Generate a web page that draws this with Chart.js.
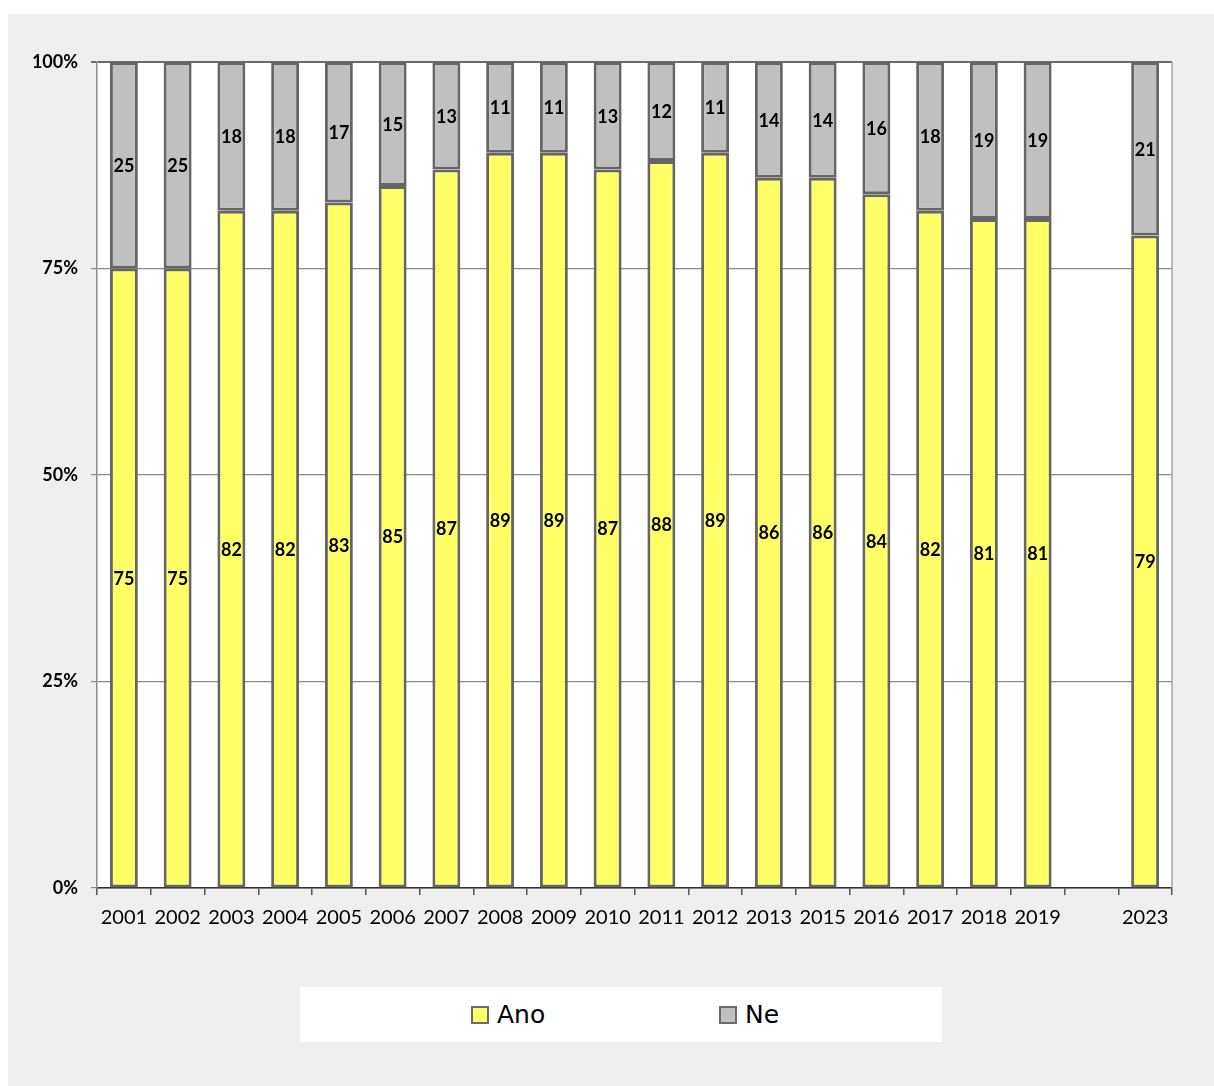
<!DOCTYPE html>
<html>
<head>
<meta charset="utf-8">
<script src="https://cdn.jsdelivr.net/npm/chart.js@4"></script>
<style>
  html, body { margin: 0; padding: 0; background: #ffffff; }
  #wrap { position: relative; width: 1214px; height: 1086px; overflow: hidden; }
  #panel { position: absolute; left: 8px; top: 14px; right: 0; bottom: 0; background: #efefef; }
  #c { position: absolute; left: 0; top: 0; }
  #legend { position: absolute; left: 300px; top: 987px; width: 642px; height: 55px; background: #ffffff;
            font-family: "DejaVu Sans", sans-serif; font-size: 25px; color: #000; }
  .item { position: absolute; top: 0; height: 55px; display: flex; align-items: center; }
  .sw { width: 14px; height: 14px; border: 2px solid #6b6b6b; margin-right: 8px; }
</style>
</head>
<body>
<div id="wrap">
  <div id="panel"></div>
  <canvas id="c" width="1214" height="1086"></canvas>
  <div id="legend"></div>
</div>
<script>
const categories = ["2001","2002","2003","2004","2005","2006","2007","2008","2009","2010","2011","2012","2013","2015","2016","2017","2018","2019","","2023"];
const anoValues = [75,75,82,82,83,85,87,89,89,87,88,89,86,86,84,82,81,81,null,79];
const neValues  = [25,25,18,18,17,15,13,11,11,13,12,11,14,14,16,18,19,19,null,21];
const yTicks = [0,25,50,75,100];
const seriesNames = ["Ano","Ne"];
const seriesColors = ["#ffff66","#c0c0c0"];

const labelPlugin = {
  id: 'segLabels',
  afterDatasetsDraw(chart) {
    const ctx = chart.ctx;
    ctx.save();
    ctx.font = 'bold 18px Lato, "Open Sans", sans-serif';
    ctx.fillStyle = '#000';
    ctx.textAlign = 'center';
    ctx.textBaseline = 'middle';
    chart.data.datasets.forEach((ds, i) => {
      const meta = chart.getDatasetMeta(i);
      meta.data.forEach((el, j) => {
        const v = ds.data[j];
        if (v === null || v === undefined) return;
        ctx.fillText(String(v), el.x, (el.y + el.base) / 2 + 1);
      });
    });
    ctx.restore();
  }
};

const framePlugin = {
  id: 'frame',
  beforeDraw(chart) {
    const a = chart.chartArea, ctx = chart.ctx;
    ctx.save();
    ctx.fillStyle = '#ffffff';
    ctx.fillRect(a.left, a.top, a.right - a.left, a.bottom - a.top);
    ctx.restore();
  },
  afterDraw(chart) {
    const a = chart.chartArea, ctx = chart.ctx;
    ctx.save();
    ctx.strokeStyle = '#a6a6a6';
    ctx.lineWidth = 1.5;
    ctx.beginPath();
    ctx.moveTo(a.right, a.top);
    ctx.lineTo(a.right, a.bottom);
    ctx.stroke();
    ctx.restore();
  }
};

const chart = new Chart(document.getElementById('c'), {
  type: 'bar',
  data: {
    labels: categories,
    datasets: [
      { label: seriesNames[0], data: anoValues, backgroundColor: seriesColors[0], borderColor: '#666666', borderWidth: 3, borderSkipped: false },
      { label: seriesNames[1], data: neValues, backgroundColor: seriesColors[1], borderColor: '#666666', borderWidth: 3, borderSkipped: false }
    ]
  },
  options: {
    responsive: false,
    animation: false,
    devicePixelRatio: 1,
    layout: { padding: { top: 62, right: 42, bottom: 138, left: 0 } },
    datasets: { bar: { categoryPercentage: 1.0, barPercentage: 0.52 } },
    plugins: { legend: { display: false }, tooltip: { enabled: false } },
    scales: {
      x: {
        stacked: true,
        grid: { offset: true, drawOnChartArea: false, drawTicks: true, tickLength: 7, color: '#555555', lineWidth: 1.5 },
        border: { display: true, color: '#333333', width: 1.5 },
        ticks: { color: '#000', font: { family: 'Lato, "Open Sans", sans-serif', size: 20 }, padding: 11, maxRotation: 0, autoSkip: false },
        afterFit(scale) { scale.height = 60; }
      },
      y: {
        stacked: true,
        min: 0, max: 100,
        afterBuildTicks(scale) { scale.ticks = yTicks.map(v => ({ value: v })); },
        ticks: { color: '#000', font: { family: 'Lato, "Open Sans", sans-serif', size: 18, weight: 'bold' }, padding: 13,
                 callback: v => v + '%' },
        grid: { color: ctx => (ctx.tick && ctx.tick.value === 100) ? '#6b6b6b' : '#8c8c8c', lineWidth: ctx => (ctx.tick && ctx.tick.value === 100) ? 2 : 1.2, tickLength: 6 },
        border: { display: true, color: '#8c8c8c', width: 1.5 },
        afterFit(scale) { scale.width = 97; }
      }
    }
  },
  plugins: [framePlugin, labelPlugin]
});

// HTML legend built from the datasets
const legend = document.getElementById('legend');
const legendX = [171, 419];
chart.data.datasets.forEach((ds, i) => {
  const it = document.createElement('div');
  it.className = 'item';
  it.style.left = legendX[i] + 'px';
  const sw = document.createElement('div');
  sw.className = 'sw';
  sw.style.background = ds.backgroundColor;
  const tx = document.createElement('span');
  tx.textContent = ds.label;
  it.appendChild(sw); it.appendChild(tx);
  legend.appendChild(it);
});
</script>
</body>
</html>
